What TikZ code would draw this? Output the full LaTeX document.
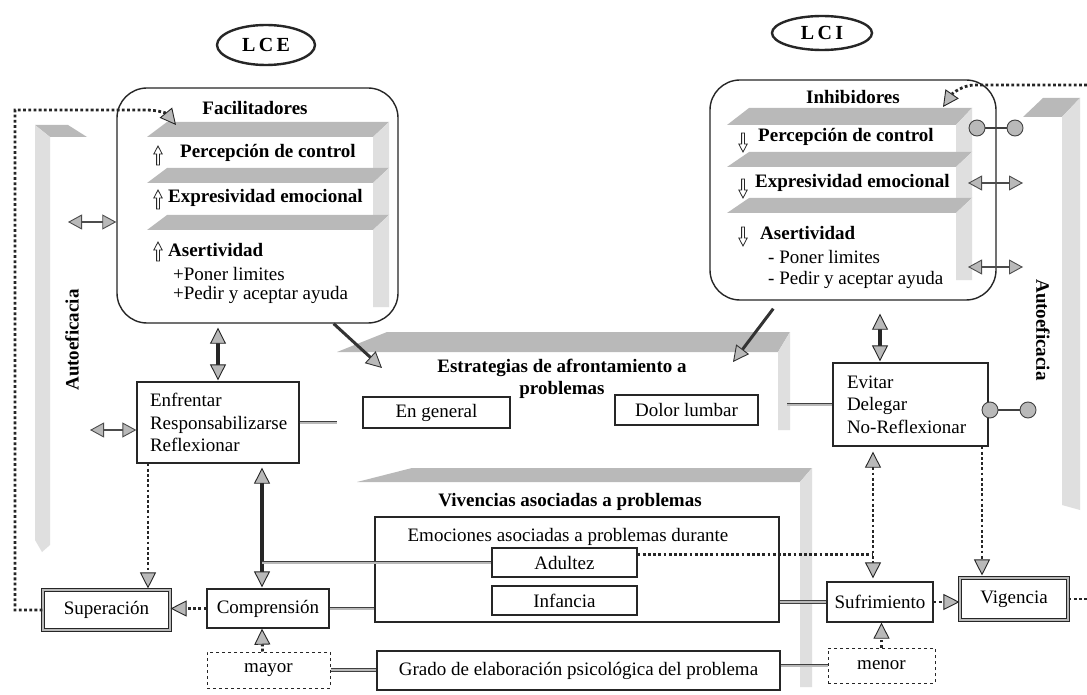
\documentclass[tikz,border=0pt]{standalone}
\usepackage{fontspec}
\setmainfont{Liberation Serif}
\usetikzlibrary{arrows.meta,shapes.geometric,calc}

\newcommand\shelfpanel[7]{% x1, x2, ytop, ybot, yend, slant, face width
  \fill[gray!55] (#1,#4) -- (#1+#6,#3) -- (#2,#3) -- (#2-#7,#4) -- cycle;
  \fill[gray!25] (#2-#7,#4) -- (#2,#3) -- (#2,#5) -- (#2-#7,#5) -- cycle;
}

\tikzset{
  every node/.style={font=\fontsize{19}{22.5}\selectfont},
  gtip/.tip={Triangle[length=16pt,width=16pt,fill=gray!55,line width=0.9pt]},
  stip/.tip={Triangle[length=14pt,width=15pt,fill=gray!55,line width=0.9pt]},
  bx/.style={draw=black!85, line width=1.3pt, fill=white, inner sep=0pt},
  heavybx/.style={draw=black!85, double=gray!55, double distance=1.4pt, line width=1.1pt, fill=white, inner sep=0pt},
  dashbx/.style={draw=black!85, dashed, line width=1pt, fill=white, inner sep=0pt},
  rbox/.style={draw=black!85, line width=1.4pt, rounded corners=30pt, fill=white, inner sep=0pt},
  oval/.style={draw=black!85, ellipse, line width=2.4pt, inner sep=0pt, font=\fontsize{20}{22}\selectfont\bfseries},
  lbl/.style={inner sep=0pt, anchor=west},
  blbl/.style={inner sep=0pt, anchor=west, font=\fontsize{19}{22.5}\selectfont\bfseries},
  ttl/.style={inner sep=0pt, font=\fontsize{19}{22.5}\selectfont\bfseries, align=center},
  dotline/.style={draw=black!85, line width=2.8pt, dash pattern=on 2.8pt off 2.4pt},
  fatline/.style={draw=black!85, line width=3.5pt},
  grayline/.style={draw=black!75, double=gray!55, double distance=2pt, line width=0.8pt},
  sidearr/.style={draw=black!70, line width=2pt, {stip}-{stip}},
  ball/.style={circle, draw=black!75, fill=gray!55, minimum size=16pt, inner sep=0pt, line width=0.9pt},
  uparr/.pic={\draw[black!85, line width=0.8pt, fill=white] (-1.4,9) -- (-1.4,-2) -- (-4.2,-2) -- (0,-10) -- (4.2,-2) -- (1.4,-2) -- (1.4,9) -- cycle;},
  dnarr/.pic={\draw[black!85, line width=0.8pt, fill=white] (-1.4,-9) -- (-1.4,2) -- (-4.2,2) -- (0,10) -- (4.2,2) -- (1.4,2) -- (1.4,-9) -- cycle;},
}

\begin{document}
\begin{tikzpicture}[x=1pt,y=-1pt]
\fill[white] (0,0) rectangle (1087,695);
\useasboundingbox (0,0) rectangle (1087,695);

% ---- side panels (Autoeficacia)
\fill[gray!55] (35,125) -- (68,125) -- (87,137) -- (50,137) -- cycle;
\fill[gray!25] (35,125) -- (50,137) -- (50,545) -- (42,552) -- (35,540) -- cycle;
\fill[gray!55] (1023,117) -- (1043,98) -- (1080,98) -- (1062,117) -- cycle;
\fill[gray!25] (1062,117) -- (1080,98) -- (1080,510) -- (1062,505) -- cycle;
\node[ttl, rotate=90] (autoL) at (72,340) {Autoeficacia};
\node[ttl, rotate=-90] (autoR) at (1043,330) {Autoeficacia};

% ---- central panels
\shelfpanel{337}{790}{332}{352}{430}{50}{12}
\shelfpanel{357}{812}{468}{482}{687}{55}{12}
\node[ttl] (estr) at (562,379) {Estrategias de afrontamiento a\\problemas};
\node[ttl] (viv) at (570,502) {Vivencias asociadas a problemas};

% ---- ovals
\node[oval, minimum width=98pt, minimum height=40pt] (lce) at (266,45) {L\,C\,E};
\node[oval, minimum width=100pt, minimum height=34pt] (lci) at (822,33) {L\,C\,I};

% ---- Facilitadores
\node[rbox, minimum width=281pt, minimum height=235pt] (facil) at (257.5,205.5) {};
\shelfpanel{147}{389}{122}{137}{168}{20}{16}
\shelfpanel{147}{389}{168}{183}{215}{20}{16}
\shelfpanel{147}{389}{215}{230}{307}{20}{16}
\node[ttl] (facT) at (255,108) {Facilitadores};
\pic at (158,156) {uparr};
\pic at (158,200) {uparr};
\pic at (158,252) {uparr};
\node[blbl] (f1) at (180,153) {Percepción de control};
\node[blbl] (f2) at (168,198) {Expresividad emocional};
\node[blbl] (f3) at (168,250) {Asertividad};
\node[lbl] (f4) at (173,274) {+Poner limites};
\node[lbl] (f5) at (173,295) {+Pedir y aceptar ayuda};

% ---- Inhibidores
\node[rbox, minimum width=286pt, minimum height=220pt] (inhib) at (853,190) {};
\shelfpanel{727}{972}{108}{125}{152}{22}{16}
\shelfpanel{727}{972}{152}{167}{198}{22}{16}
\shelfpanel{727}{972}{198}{213}{280}{22}{16}
\node[ttl] (inhT) at (853,97) {Inhibidores};
\pic at (743,142) {dnarr};
\pic at (743,188) {dnarr};
\pic at (743,236) {dnarr};
\node[blbl] (i1) at (758,137) {Percepción de control};
\node[blbl] (i2) at (755,183) {Expresividad emocional};
\node[blbl] (i3) at (760,233) {Asertividad};
\node[lbl] (i4) at (768,257) {- Poner limites};
\node[lbl] (i5) at (768,280) {- Pedir y aceptar ayuda};

% ---- boxes
\node[bx, minimum width=162pt, minimum height=81pt, text width=136pt, inner xsep=13pt, align=left] (enf) at (218,422.5) {Enfrentar\\Responsabilizarse\\Reflexionar};
\node[bx, minimum width=155pt, minimum height=83pt, text width=127pt, inner xsep=14pt, align=left] (evit) at (910.5,404.5) {Evitar\\Delegar\\No-Reflexionar};
\node[bx, minimum width=147pt, minimum height=31pt] (engen) at (436.5,412.5) {En general};
\node[bx, minimum width=143pt, minimum height=30pt] (dolor) at (686.5,410) {Dolor lumbar};
\node[bx, minimum width=404pt, minimum height=105pt] (emo) at (577,569.5) {};
\node[inner sep=0pt] (emoT) at (568,537) {Emociones asociadas a problemas durante};
\node[bx, minimum width=145pt, minimum height=29pt] (adult) at (564.5,562.5) {Adultez};
\node[bx, minimum width=145pt, minimum height=29pt] (inf) at (564.5,600.5) {Infancia};
\node[heavybx, minimum width=127pt, minimum height=40pt] (sup) at (106.5,610) {Superación};
\node[bx, minimum width=122pt, minimum height=39pt] (comp) at (268,608.5) {Comprensión};
\node[dashbx, minimum width=123pt, minimum height=36pt] (mayor) at (268.5,670) {mayor};
\node[bx, minimum width=403pt, minimum height=39pt] (grado) at (578.5,670.5) {Grado de elaboración psicológica del problema};
\node[dashbx, minimum width=107pt, minimum height=35pt] (menor) at (881.5,665.5) {menor};
\node[bx, minimum width=106pt, minimum height=40pt] (suf) at (880,602) {Sufrimiento};
\node[heavybx, minimum width=108pt, minimum height=42pt] (vig) at (1014,599) {Vigencia};

% ---- coordinates for free ends
\coordinate (lc1) at (15,110);
\coordinate (facin) at (176,125);
\coordinate (rc1) at (1087,85);
\coordinate (inhin) at (943,107);
\coordinate (rc2) at (1087,600);
\coordinate (la1) at (68,222);
\coordinate (la2) at (90,430);
\coordinate (ra1) at (968,183);
\coordinate (ra1e) at (1023,183);
\coordinate (ra2) at (968,267);
\coordinate (ra2e) at (1023,267);
\coordinate (estin1) at (382,368);
\coordinate (estin2) at (733,362);
\coordinate (st1) at (337,420);
\coordinate (st2) at (787,395);
\coordinate (cx) at ([xshift=-6pt]comp.north);
\coordinate (ex) at ([xshift=-70pt]enf.south);
\coordinate (ix) at ([xshift=-30.5pt]evit.north);
\coordinate (sx) at ([xshift=-7pt]suf.north);
\coordinate (vx) at ([xshift=-32pt]vig.north);

% ---- connectors
\draw[dotline, -{gtip}] (sup.west) -- (sup.west -| lc1) -- (lc1) -- (145,110) .. controls (160,110) and (167,114) .. (facin);
\draw[dotline, -{gtip}] (rc1) -- (975,85) .. controls (962,85) and (952,94) .. (inhin);
\draw[sidearr] (la1) -- (facil.west |- la1);
\draw[sidearr] (la2) -- (enf.west |- la2);
\draw[sidearr] (ra1) -- (ra1e);
\draw[sidearr] (ra2) -- (ra2e);
\draw[fatline, {gtip}-{gtip}, shorten <=4pt, shorten >=1pt] (enf.north |- facil.south) -- (enf.north);
\draw[fatline, {gtip}-{gtip}, shorten <=13pt, shorten >=1pt] (ix |- inhib.south) -- (ix);
\draw[draw=black!80, line width=3pt, -{gtip}] ([xshift=-65pt]facil.south east) -- (estin1);
\draw[draw=black!80, line width=3pt, -{gtip}, shorten <=10pt] ([xshift=70pt]inhib.south west) -- (estin2);
\node[ball] (b1) at (977,128) {};
\node[ball] (b2) at (1015,128) {};
\draw[black!75, line width=1.6pt] (b1) -- (b2);
\node[ball] (b3) at (990,410) {};
\node[ball] (b4) at (1028,410) {};
\draw[black!75, line width=1.6pt] (b3) -- (b4);
\draw[grayline] (enf.east) -- (enf.east -| st1);
\draw[grayline] (st2 |- evit.west) -- (evit.west);
\draw[fatline, {gtip}-{gtip}, shorten <=4pt, shorten >=1pt] (cx |- enf.south) -- (cx);
\draw[grayline] (cx |- adult.west) -- (adult.west);
\draw[dotline] ([yshift=8pt]adult.east) -- ([yshift=8pt]adult.east -| sx);
\draw[dotline, {gtip}-{gtip}, shorten <=5pt, shorten >=3pt] (sx |- evit.south) -- (sx);
\draw[dotline, -{gtip}, shorten >=2pt] (vx |- evit.south) -- (vx);
\draw[dotline, -{gtip}, shorten >=1pt] (ex) -- (ex |- sup.north);
\draw[dotline, -{gtip}] (comp.west) -- (comp.west -| sup.east);
\draw[grayline] (comp.east) -- (comp.east -| emo.west);
\draw[dotline, -{gtip}] ([xshift=-6pt]mayor.north) -- ([xshift=-6pt]comp.south);
\draw[grayline] (mayor.east) -- (mayor.east -| grado.west);
\draw[grayline] (emo.east |- suf.west) -- (suf.west);
\draw[dotline, -{gtip}] (suf.east) -- (suf.east -| vig.west);
\draw[dotline] (vig.east) -- (vig.east -| rc2);
\draw[dotline, -{gtip}] (menor.north) -- (menor.north |- suf.south);
\draw[grayline] (grado.east |- menor.west) -- (menor.west);
\end{tikzpicture}
\end{document}
